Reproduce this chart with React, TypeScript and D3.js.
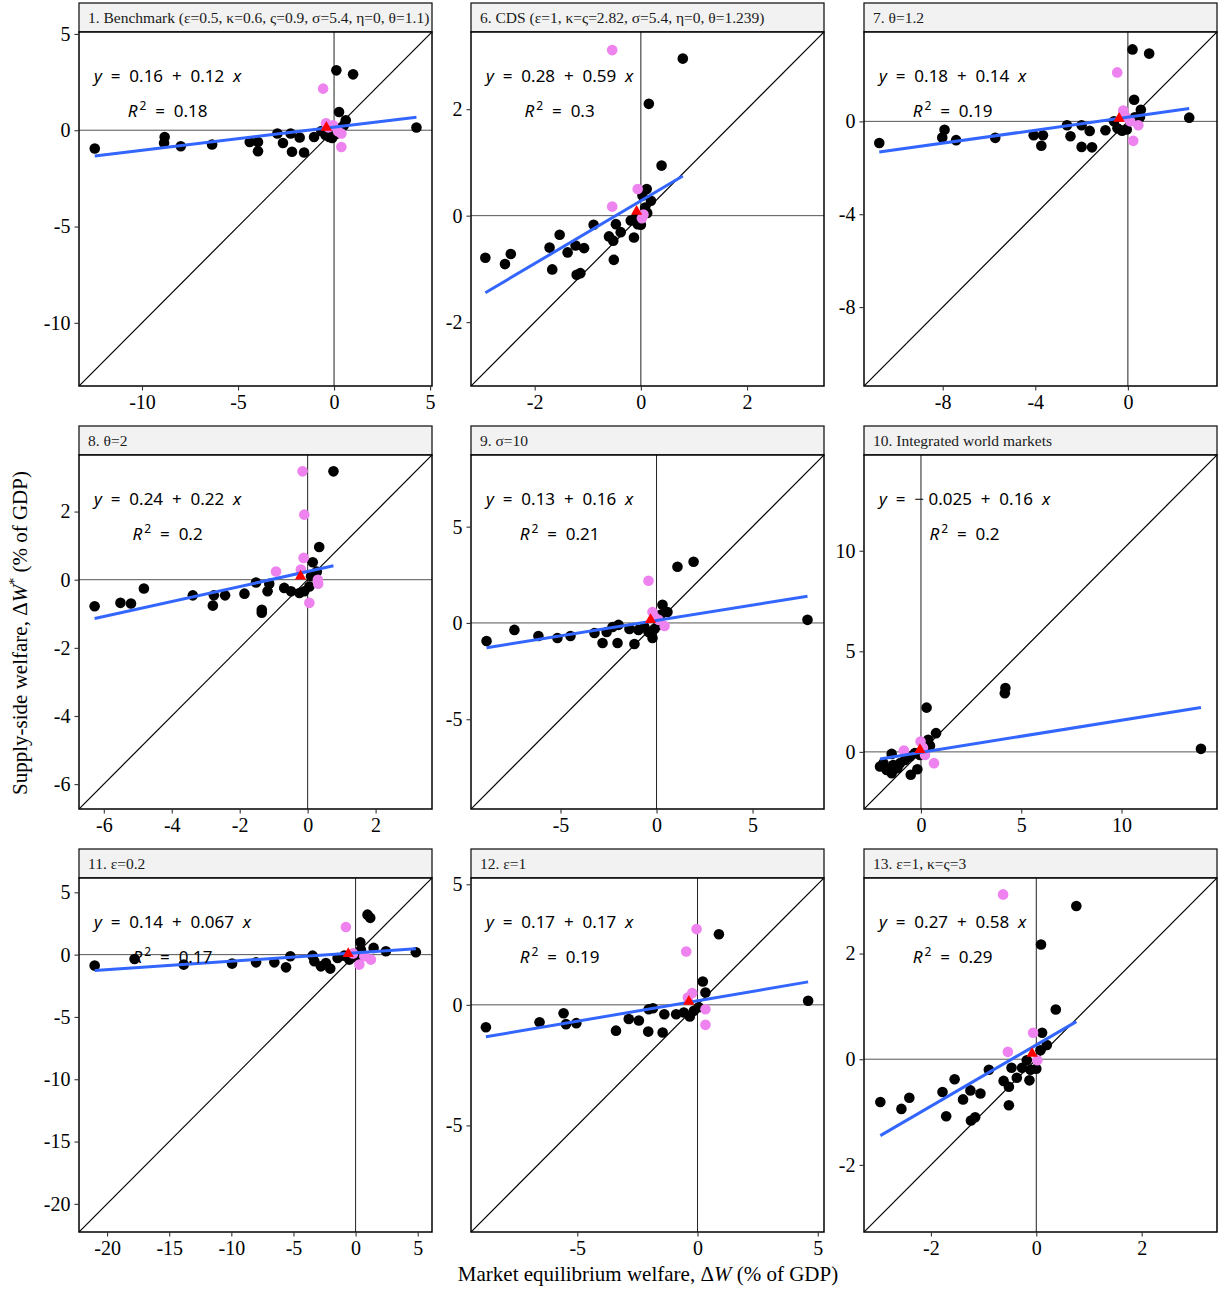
import { useEffect, useRef } from 'react';
import * as d3 from 'd3';

type Pt = [number, number];

const titles = [
  '1. Benchmark (ε=0.5, κ=0.6, ς=0.9, σ=5.4, η=0, θ=1.1)',
  '6. CDS (ε=1, κ=ς=2.82, σ=5.4, η=0, θ=1.239)',
  '7. θ=1.2',
  '8. θ=2',
  '9. σ=10',
  '10. Integrated world markets',
  '11. ε=0.2',
  '12. ε=1',
  '13. ε=1, κ=ς=3',
];

// same range on both axes (45° line runs corner to corner)
const domains: Pt[] = [
  [-13.28, 5.1], [-3.2, 3.45], [-11.4, 3.85],
  [-6.73, 3.66], [-9.66, 8.72], [-2.84, 14.76],
  [-22.26, 6.15], [-9.42, 5.26], [-3.27, 3.43],
];

const ticks = [
  [-10, -5, 0, 5], [-2, 0, 2], [-8, -4, 0],
  [-6, -4, -2, 0, 2], [-5, 0, 5], [0, 5, 10],
  [-20, -15, -10, -5, 0, 5], [-5, 0, 5], [-2, 0, 2],
];

const intercepts = [0.16, 0.28, 0.18, 0.24, 0.13, -0.025, 0.14, 0.17, 0.27];
const slopes = [0.12, 0.59, 0.14, 0.22, 0.16, 0.16, 0.067, 0.17, 0.58];
const interceptLabels = ['0.16', '0.28', '0.18', '0.24', '0.13', '− 0.025', '0.14', '0.17', '0.27'];
const slopeLabels = ['0.12', '0.59', '0.14', '0.22', '0.16', '0.16', '0.067', '0.17', '0.58'];
const r2Labels = ['0.18', '0.3', '0.19', '0.2', '0.21', '0.2', '0.17', '0.19', '0.29'];

const meanPts: Pt[] = [
  [-0.4, 0.14], [-0.08, 0.08], [-0.38, 0.12],
  [-0.21, 0.1], [-0.31, 0.16], [-0.05, 0.1],
  [-0.59, 0.08], [-0.36, 0.14], [-0.08, 0.11],
];

const p1Black: Pt[] = [[-12.46,-0.95],[-8.82,-0.35],[-8.85,-0.66],[-7.98,-0.83],[-6.35,-0.74],[-4.39,-0.61],[-3.96,-0.61],[-3.96,-1.09],[-2.95,-0.17],[-2.66,-0.66],[-2.26,-0.17],[-1.79,-0.38],[-2.19,-1.12],[-1.56,-1.16],[-1.04,-0.35],[-0.66,-0.04],[-0.45,-0.25],[-0.25,-0.35],[-0.4,-0.15],[0.1,-0.2],[-0.1,-0.4],[0.26,0.95],[0.61,0.52],[4.29,0.14],[0.12,3.11],[0.99,2.9],[0.5,0.25],[0.3,0.1]];
const p1Violet: Pt[] = [[-0.57,2.16],[-0.42,0.36],[0.38,-0.17],[0.38,-0.87],[-0.3,0.15],[-0.05,0.26],[0.2,-0.05]];

const p6Black: Pt[] = [[0.79,2.95],[0.15,2.1],[0.39,0.94],[0.11,0.5],[0.19,0.28],[0.03,0.38],[-0.19,-0.09],[-0.06,-0.16],[0,-0.17],[-0.47,-0.16],[-0.89,-0.17],[-0.13,-0.41],[-0.38,-0.31],[-0.6,-0.39],[-0.52,-0.47],[-0.51,-0.83],[-1.53,-0.36],[-1.72,-0.6],[-1.38,-0.69],[-1.23,-0.56],[-1.07,-0.61],[-1.67,-1.01],[-1.21,-1.11],[-1.14,-1.08],[-2.93,-0.79],[-2.56,-0.91],[-2.45,-0.72],[0.08,0.15],[0.12,0.05],[-0.1,-0.05]];
const p6Violet: Pt[] = [[-0.54,3.11],[-0.06,0.5],[-0.54,0.17],[0.02,-0.05],[0.05,0.02]];

const p7Black: Pt[] = [[0.2,3.1],[0.92,2.92],[0.27,0.93],[0.56,0.5],[0.52,0.18],[0.3,0.18],[2.65,0.16],[-10.74,-0.93],[-7.92,-0.36],[-8.02,-0.7],[-7.42,-0.81],[-5.73,-0.71],[-4.07,-0.6],[-3.67,-0.6],[-3.74,-1.05],[-2.63,-0.17],[-2.48,-0.64],[-2.0,-0.17],[-1.65,-0.41],[-2.0,-1.1],[-1.55,-1.12],[-0.97,-0.38],[-0.6,0.0],[-0.45,-0.3],[-0.25,-0.4],[-0.05,-0.35]];
const p7Violet: Pt[] = [[-0.46,2.11],[-0.2,0.47],[0.45,-0.17],[0.23,-0.84],[-0.1,0.2],[0.1,0.0]];

const p8Black: Pt[] = [[0.76,3.18],[0.34,0.96],[0.15,0.51],[0.27,0.24],[0.1,0.1],[-1.52,-0.08],[-1.13,-0.12],[-1.18,-0.34],[-0.69,-0.24],[-0.49,-0.34],[-0.24,-0.39],[-0.1,-0.34],[-1.86,-0.41],[-2.43,-0.46],[-2.76,-0.46],[-3.38,-0.46],[-4.82,-0.26],[-5.51,-0.68],[-5.2,-0.7],[-6.27,-0.78],[-2.79,-0.76],[-1.35,-0.88],[-1.35,-0.97],[0.05,-0.2]];
const p8Violet: Pt[] = [[-0.15,3.18],[-0.1,1.91],[-0.12,0.64],[-0.93,0.24],[0.31,-0.12],[0.05,-0.68],[-0.2,0.3],[0.3,0.0]];

const p9Black: Pt[] = [[-8.85,-0.94],[-7.4,-0.36],[-6.15,-0.68],[-5.16,-0.78],[-4.48,-0.68],[-3.23,-0.52],[-2.81,-1.04],[-2.6,-0.47],[-2.29,-0.21],[-2.03,-1.04],[-1.98,-0.1],[-1.41,-0.31],[-1.15,-1.09],[-0.94,-0.36],[-0.63,-0.21],[-0.42,-0.47],[-0.21,-0.78],[0.21,0.42],[0.31,0.94],[0.57,0.57],[1.09,2.92],[1.93,3.18],[7.86,0.16],[-0.1,-0.3],[0.1,-0.1]];
const p9Violet: Pt[] = [[-0.42,2.19],[-0.21,0.57],[0.42,-0.16],[0.1,0.16],[-0.1,0.3]];

const p10Black: Pt[] = [[0.28,2.2],[4.21,3.17],[4.18,2.92],[0.75,0.93],[0.36,0.6],[0.45,0.3],[13.96,0.15],[-1.46,-0.1],[-2.04,-0.73],[-1.71,-0.9],[-1.46,-1.06],[-1.38,-0.65],[-1.04,-0.56],[-0.8,-0.4],[-0.55,-0.23],[-0.51,-1.14],[-0.18,-0.86],[-0.3,-0.06],[-0.05,-0.15],[-1.18,-0.81],[-1.87,-0.56],[0.15,0.2]];
const p10Violet: Pt[] = [[-0.02,0.51],[-0.85,0.07],[0.65,-0.56],[0.2,-0.15],[0.1,0.2]];

const p11Black: Pt[] = [[-21.0,-0.88],[-17.79,-0.35],[-13.83,-0.8],[-9.94,-0.72],[-8.01,-0.62],[-6.54,-0.62],[-5.6,-1.02],[-5.25,-0.13],[-3.46,-0.08],[-3.32,-0.53],[-2.79,-0.94],[-2.39,-0.67],[-2.04,-1.12],[-1.45,-0.27],[-0.91,-0.08],[0.96,3.21],[1.18,2.95],[0.38,0.99],[0.43,0.4],[1.45,0.54],[2.44,0.27],[4.85,0.19],[-0.5,-0.4],[0.2,-0.3]];
const p11Violet: Pt[] = [[-0.78,2.22],[0.3,-0.8],[1.23,-0.4],[0.7,-0.13],[-0.2,0.1]];

const p12Black: Pt[] = [[-8.8,-0.93],[-6.57,-0.72],[-5.57,-0.35],[-5.47,-0.8],[-5.04,-0.76],[-3.39,-1.07],[-2.86,-0.59],[-2.44,-0.65],[-2.05,-1.11],[-2.03,-0.18],[-1.85,-0.14],[-1.45,-1.15],[-1.38,-0.39],[-0.89,-0.39],[-0.57,-0.32],[-0.32,-0.48],[0.22,0.97],[0.33,0.51],[0.89,2.93],[4.6,0.17],[-0.15,-0.25],[0.05,-0.1]];
const p12Violet: Pt[] = [[-0.04,3.14],[-0.47,2.21],[-0.22,0.49],[0.33,-0.18],[0.33,-0.83],[-0.4,0.3]];

const p13Black: Pt[] = [[0.76,2.9],[0.09,2.17],[0.37,0.94],[0.11,0.5],[0.2,0.27],[0.08,0.17],[-0.18,-0.02],[-0.27,-0.16],[-0.11,-0.2],[0,-0.18],[-0.47,-0.16],[-0.9,-0.2],[-0.37,-0.35],[-0.13,-0.4],[-0.62,-0.41],[-0.52,-0.52],[-0.52,-0.87],[-1.55,-0.38],[-1.78,-0.62],[-1.25,-0.59],[-1.39,-0.76],[-1.06,-0.65],[-1.71,-1.08],[-1.24,-1.16],[-1.16,-1.1],[-2.96,-0.81],[-2.56,-0.94],[-2.41,-0.73]];
const p13Violet: Pt[] = [[-0.63,3.12],[-0.06,0.5],[-0.54,0.14],[0.02,-0.02]];

const blackPts = [p1Black, p6Black, p7Black, p8Black, p9Black, p10Black, p11Black, p12Black, p13Black];
const violetPts = [p1Violet, p6Violet, p7Violet, p8Violet, p9Violet, p10Violet, p11Violet, p12Violet, p13Violet];

const W = 1225;
const H = 1289;
const lefts = [79, 471, 864];
const stripTops = [3, 426, 849];
const stripH = 29;
const pw = 353;
const ph = 354;
const serif = '"Liberation Serif", "Times New Roman", serif';
const sans = '"Noto Sans", "DejaVu Sans", sans-serif';

const App = () => {
  const svgRef = useRef<SVGSVGElement>(null);

  useEffect(() => {
    const svg = d3.select(svgRef.current);
    svg.selectAll('*').remove();
    const defs = svg.append('defs');

    titles.forEach((title, i) => {
      const col = i % 3;
      const row = Math.floor(i / 3);
      const x0 = lefts[col];
      const sy = stripTops[row];
      const y0 = sy + stripH;
      const dom = domains[i];

      const x = d3.scaleLinear().domain(dom).range([x0, x0 + pw]);
      const y = d3.scaleLinear().domain(dom).range([y0 + ph, y0]);

      defs.append('clipPath').attr('id', `clip${i}`)
        .append('rect').attr('x', x0).attr('y', y0).attr('width', pw).attr('height', ph);
      defs.append('clipPath').attr('id', `sclip${i}`)
        .append('rect').attr('x', x0).attr('y', sy).attr('width', pw).attr('height', stripH);

      // strip
      svg.append('rect')
        .attr('x', x0).attr('y', sy).attr('width', pw).attr('height', stripH)
        .attr('fill', '#f2f2f2').attr('stroke', '#1a1a1a').attr('stroke-width', 1.3);
      svg.append('text')
        .attr('clip-path', `url(#sclip${i})`)
        .attr('x', x0 + 9).attr('y', sy + 19.5)
        .attr('font-family', serif).attr('font-size', 15.5).attr('fill', '#1a1a1a')
        .text(title);

      const g = svg.append('g').attr('clip-path', `url(#clip${i})`);
      g.append('rect').attr('x', x0).attr('y', y0).attr('width', pw).attr('height', ph).attr('fill', '#fff');

      // reference lines
      g.append('line')
        .attr('x1', x0).attr('x2', x0 + pw).attr('y1', y(0)).attr('y2', y(0))
        .attr('stroke', '#555').attr('stroke-width', 1);
      g.append('line')
        .attr('x1', x(0)).attr('x2', x(0)).attr('y1', y0).attr('y2', y0 + ph)
        .attr('stroke', '#222').attr('stroke-width', 1);
      g.append('line')
        .attr('x1', x(dom[0])).attr('y1', y(dom[0]))
        .attr('x2', x(dom[1])).attr('y2', y(dom[1]))
        .attr('stroke', '#000').attr('stroke-width', 1.2);

      g.selectAll('circle.b').data(blackPts[i]).enter().append('circle')
        .attr('cx', d => x(d[0])).attr('cy', d => y(d[1])).attr('r', 5.3).attr('fill', '#000');
      g.selectAll('circle.v').data(violetPts[i]).enter().append('circle')
        .attr('cx', d => x(d[0])).attr('cy', d => y(d[1])).attr('r', 5.3).attr('fill', 'violet');

      // fitted line over the data range
      const allX = blackPts[i].concat(violetPts[i]).map(d => d[0]);
      const [xmin, xmax] = d3.extent(allX) as [number, number];
      const fit = (v: number) => intercepts[i] + slopes[i] * v;
      g.append('path')
        .attr('d', d3.line<number>().x(v => x(v)).y(v => y(fit(v)))([xmin, xmax]))
        .attr('stroke', '#3366FF').attr('stroke-width', 3).attr('fill', 'none');

      g.append('path')
        .attr('d', d3.symbol().type(d3.symbolTriangle).size(55)())
        .attr('transform', `translate(${x(meanPts[i][0])},${y(meanPts[i][1])})`)
        .attr('fill', 'red');

      // equation labels
      const eq = svg.append('text')
        .attr('x', x0 + 15).attr('y', y0 + 50)
        .attr('font-family', sans).attr('font-size', 17).attr('fill', '#000')
        .style('white-space', 'pre');
      eq.append('tspan').attr('font-style', 'italic').text('y');
      eq.append('tspan').text(`  =  ${interceptLabels[i]}  +  ${slopeLabels[i]}  `);
      eq.append('tspan').attr('font-style', 'italic').text('x');
      const eqW = (eq.node() as SVGTextElement).getComputedTextLength();

      const r2 = svg.append('text')
        .attr('x', x0 + 15 + eqW / 2).attr('y', y0 + 85)
        .attr('text-anchor', 'middle')
        .attr('font-family', sans).attr('font-size', 17).attr('fill', '#000')
        .style('white-space', 'pre');
      r2.append('tspan').attr('font-style', 'italic').text('R');
      r2.append('tspan').attr('font-size', 12).attr('dx', 2).attr('dy', -7).text('2');
      r2.append('tspan').attr('dy', 7).text(`  =  ${r2Labels[i]}`);

      // panel border
      svg.append('rect')
        .attr('x', x0).attr('y', y0).attr('width', pw).attr('height', ph)
        .attr('fill', 'none').attr('stroke', '#000').attr('stroke-width', 1.5);

      // axes
      const xa = svg.append('g').attr('transform', `translate(0,${y0 + ph})`)
        .call(d3.axisBottom(x).tickValues(ticks[i]).tickSize(4.5).tickPadding(4).tickFormat(d3.format('d')));
      const ya = svg.append('g').attr('transform', `translate(${x0},0)`)
        .call(d3.axisLeft(y).tickValues(ticks[i]).tickSize(4.5).tickPadding(4).tickFormat(d3.format('d')));
      [xa, ya].forEach(a => {
        a.select('.domain').remove();
        a.selectAll('line').attr('stroke', '#333').attr('stroke-width', 1.1);
        a.selectAll('text')
          .attr('font-family', serif).attr('font-size', 20).attr('fill', '#000')
          .text(d => String(d).replace('−', '-'));
      });
    });

    // axis titles
    const xt = svg.append('text')
      .attr('x', 648).attr('y', 1281).attr('text-anchor', 'middle')
      .attr('font-family', serif).attr('font-size', 21).attr('fill', '#000');
    xt.append('tspan').text('Market equilibrium welfare, Δ');
    xt.append('tspan').attr('font-style', 'italic').text('W');
    xt.append('tspan').text(' (% of GDP)');

    const yt = svg.append('text')
      .attr('transform', 'translate(27,633) rotate(-90)').attr('text-anchor', 'middle')
      .attr('font-family', serif).attr('font-size', 21).attr('fill', '#000');
    yt.append('tspan').text('Supply-side welfare, Δ');
    yt.append('tspan').attr('font-style', 'italic').text('W');
    yt.append('tspan').attr('font-size', 14).attr('dy', -8).text('*');
    yt.append('tspan').attr('dy', 8).text(' (% of GDP)');
  }, []);

  return <svg ref={svgRef} width={W} height={H} style={{ display: 'block', position: 'absolute', left: 0, top: 0 }} />;
};

export default App;
